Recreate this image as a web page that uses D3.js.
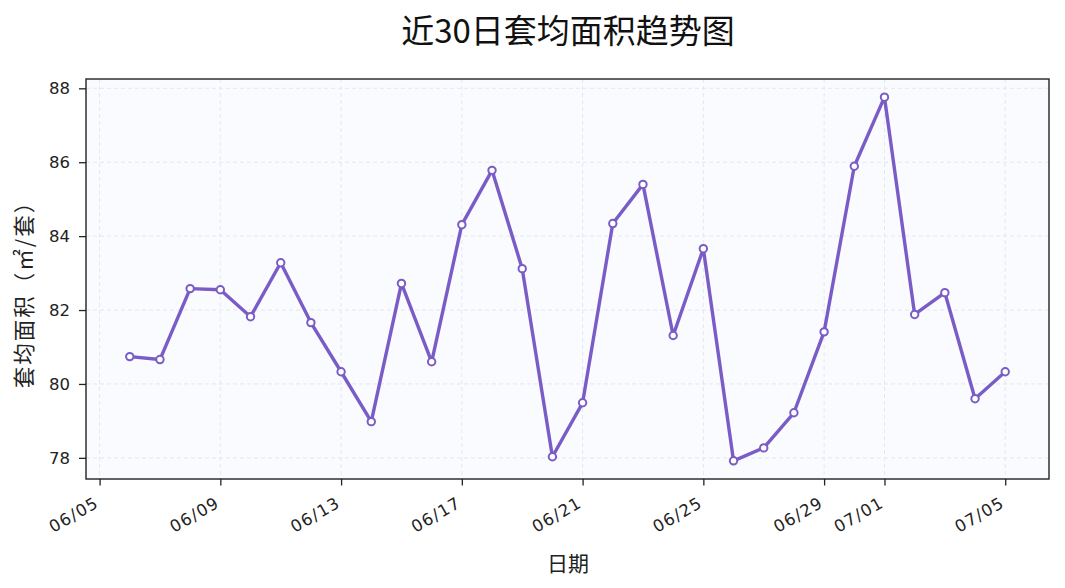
<!DOCTYPE html>
<html><head><meta charset="utf-8">
<script src="https://cdn.jsdelivr.net/npm/d3@7"></script>
<style>body{margin:0;background:#fff}</style></head>
<body><svg id="c" width="1065" height="588"></svg>
<script>
const dates = ["2024-06-06","2024-06-07","2024-06-08","2024-06-09","2024-06-10","2024-06-11","2024-06-12","2024-06-13","2024-06-14","2024-06-15","2024-06-16","2024-06-17","2024-06-18","2024-06-19","2024-06-20","2024-06-21","2024-06-22","2024-06-23","2024-06-24","2024-06-25","2024-06-26","2024-06-27","2024-06-28","2024-06-29","2024-06-30","2024-07-01","2024-07-02","2024-07-03","2024-07-04","2024-07-05"];
const values = [80.74,80.66,82.58,82.55,81.82,83.28,81.66,80.33,78.98,82.72,80.60,84.31,85.78,83.12,78.03,79.49,84.34,85.40,81.31,83.66,77.92,78.27,79.22,81.41,85.89,87.76,81.88,82.47,79.60,80.33];
const xTickDates = ["2024-06-05","2024-06-09","2024-06-13","2024-06-17","2024-06-21","2024-06-25","2024-06-29","2024-07-01","2024-07-05"];
const yTicks = [78,80,82,84,86,88];
const title = "近30日套均面积趋势图";
const xLabel = "日期";
const yLabel = "套均面积（㎡/套）";

const parse = d3.timeParse("%Y-%m-%d");
const data = dates.map((d,i)=>({date:parse(d), v:values[i]}));
const svg = d3.select("#c");
const L=86, R=1049, T=79, B=479;
const cjk = "'Noto Sans CJK SC', sans-serif";
const lat = "'DejaVu Sans', sans-serif";

const x0 = data[0].date, x1 = data[data.length-1].date;
const span = x1 - x0;
const x = d3.scaleTime().domain([new Date(+x0 - span*0.05), new Date(+x1 + span*0.05)]).range([L,R]);
const vmin = d3.min(values), vmax = d3.max(values), vr = vmax-vmin;
const y = d3.scaleLinear().domain([vmin - vr*0.05, vmax + vr*0.05]).range([B,T]);

svg.append("rect").attr("x",L).attr("y",T).attr("width",R-L).attr("height",B-T).attr("fill","#f9fbfe");

const xt = xTickDates.map(parse);
const g = svg.append("g");
g.selectAll(".gx").data(xt).join("line").attr("x1",d=>x(d)).attr("x2",d=>x(d)).attr("y1",T).attr("y2",B)
  .attr("stroke","#e4e7f0").attr("stroke-width",1).attr("stroke-dasharray","4,3");
g.selectAll(".gy").data(yTicks).join("line").attr("y1",d=>y(d)).attr("y2",d=>y(d)).attr("x1",L).attr("x2",R)
  .attr("stroke","#e4e7f0").attr("stroke-width",1).attr("stroke-dasharray","4,3");

const line = d3.line().x(d=>x(d.date)).y(d=>y(d.v));
svg.append("path").datum(data).attr("d",line).attr("fill","none").attr("stroke","#7a5cc6").attr("stroke-width",3.4).attr("stroke-linejoin","round");
svg.selectAll(".pt").data(data).join("circle").attr("cx",d=>x(d.date)).attr("cy",d=>y(d.v)).attr("r",3.7)
  .attr("fill","#fff").attr("stroke","#7a5cc6").attr("stroke-width",2);

svg.append("rect").attr("x",L).attr("y",T).attr("width",R-L).attr("height",B-T).attr("fill","none").attr("stroke","#222").attr("stroke-width",1.4);

const xa = svg.append("g").attr("transform",`translate(0,${B})`)
  .call(d3.axisBottom(x).tickValues(xt).tickFormat(d3.timeFormat("%m/%d")).tickSize(6.5).tickSizeOuter(0));
xa.select(".domain").remove();
xa.selectAll(".tick line").attr("stroke","#222").attr("stroke-width",1.3);
xa.selectAll(".tick text").attr("font-family",lat).attr("font-size",16.5).attr("letter-spacing","1.3px").attr("fill","#222")
  .attr("text-anchor","end").attr("dy",null).attr("y",0)
  .attr("transform","translate(0,27) rotate(-30)");

const ya = svg.append("g").attr("transform",`translate(${L},0)`)
  .call(d3.axisLeft(y).tickValues(yTicks).tickSize(7).tickSizeOuter(0));
ya.select(".domain").remove();
ya.selectAll(".tick line").attr("stroke","#222").attr("stroke-width",1.3);
ya.selectAll(".tick text").attr("font-family",lat).attr("font-size",16.5).attr("fill","#222").attr("x",-16);

svg.append("text").attr("x",568).attr("y",43).attr("text-anchor","middle").attr("font-family",cjk).attr("font-size",33).attr("fill","#111").text(title);
svg.append("text").attr("x",568).attr("y",571).attr("text-anchor","middle").attr("font-family",cjk).attr("font-size",21).attr("fill","#222").text(xLabel);
svg.append("text").attr("transform","translate(32,289) rotate(-90)").attr("text-anchor","middle").attr("font-family",cjk).attr("font-size",21.5).attr("letter-spacing","2px").attr("fill","#222").text(yLabel);
</script></body></html>
